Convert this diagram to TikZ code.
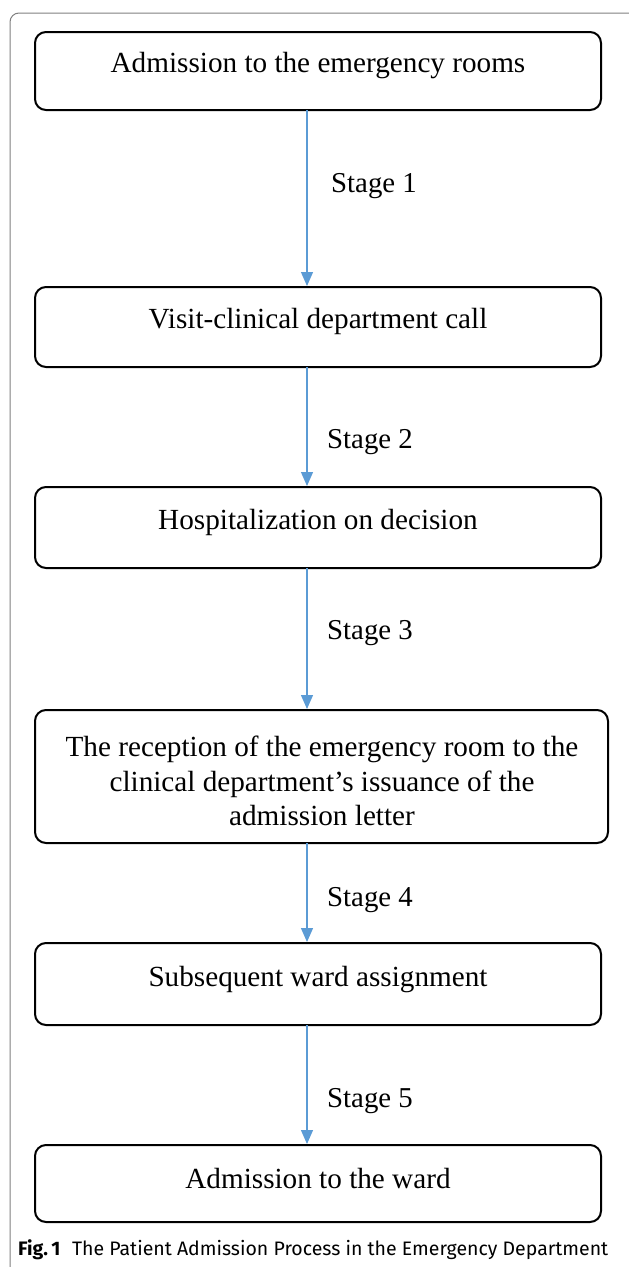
\documentclass[tikz,border=0pt]{standalone}
\usepackage{fontspec}
\setmainfont{Liberation Serif}
\newfontfamily\capfont{Fira Sans}
\usetikzlibrary{arrows.meta}
\definecolor{arrowblue}{HTML}{5B9BD5}
\definecolor{framegray}{HTML}{7F7F7F}
\begin{document}
\begin{tikzpicture}[x=1pt,y=-1pt,
  stepbox/.style={draw=black,line width=2pt,rounded corners=11pt},
  boxtext/.style={anchor=base,font=\fontsize{29.2}{35}\selectfont,inner sep=0pt,align=center},
  stagetext/.style={anchor=base,font=\fontsize{28.8}{34}\selectfont,inner sep=0pt},
  flow/.style={draw=arrowblue,line width=1.2pt,-{Triangle[length=14pt,width=12pt]},shorten >=1pt}]
\useasboundingbox (0,0) rectangle (629,1267);
% outer frame
\draw[framegray,line width=1pt,rounded corners=9pt] (10,1290) -- (10,13) -- (650,13);
% boxes
\draw[stepbox] (35,32) rectangle (601,110);
\coordinate (b1t) at (307,32); \coordinate (b1b) at (307,110);
\draw[stepbox] (35,287) rectangle (601,367);
\coordinate (b2t) at (307,287); \coordinate (b2b) at (307,367);
\draw[stepbox] (35,487) rectangle (601,568);
\coordinate (b3t) at (307,487); \coordinate (b3b) at (307,568);
\draw[stepbox] (35,710) rectangle (608,843);
\coordinate (b4t) at (307,710); \coordinate (b4b) at (307,843);
\draw[stepbox] (35,943) rectangle (601,1025);
\coordinate (b5t) at (307,943); \coordinate (b5b) at (307,1025);
\draw[stepbox] (35,1145) rectangle (601,1222);
\coordinate (b6t) at (307,1145); \coordinate (b6b) at (307,1222);
% texts
\node[boxtext] (t1) at (318,72) {Admission to the emergency rooms};
\node[boxtext] (t2) at (318,328) {Visit-clinical department call};
\node[boxtext] (t3) at (318,529) {Hospitalization on decision};
\node[boxtext] (t4a) at (322,756) {The reception of the emergency room to the};
\node[boxtext] (t4b) at (322,791) {clinical department’s issuance of the};
\node[boxtext] (t4c) at (322,825) {admission letter};
\node[boxtext] (t5) at (318,986) {Subsequent ward assignment};
\node[boxtext] (t6) at (318,1188) {Admission to the ward};
% stage labels
\node[stagetext] (s1) at (374,192) {Stage 1};
\node[stagetext] (s2) at (370,448) {Stage 2};
\node[stagetext] (s3) at (370,639) {Stage 3};
\node[stagetext] (s4) at (370,906) {Stage 4};
\node[stagetext] (s5) at (370,1107) {Stage 5};
% connectors
\draw[flow] (b1b) -- (b2t);
\draw[flow] (b2b) -- (b3t);
\draw[flow] (b3b) -- (b4t);
\draw[flow] (b4b) -- (b5t);
\draw[flow] (b5b) -- (b6t);
% caption
\node[anchor=base west,inner sep=0pt,font=\capfont\fontsize{19.5}{22}\selectfont] (cap) at (18,1255) {\textbf{Fig.\,1}\hspace{0.6em}The Patient Admission Process in the Emergency Department};
\end{tikzpicture}
\end{document}
